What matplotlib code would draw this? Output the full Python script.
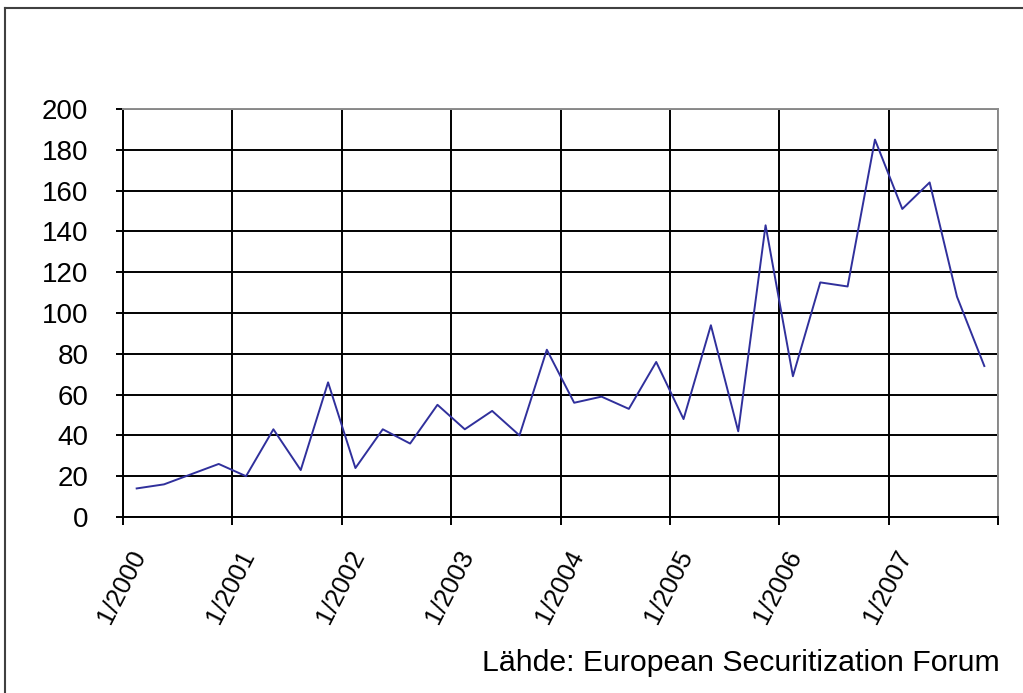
import matplotlib
matplotlib.use("Agg")
import matplotlib.pyplot as plt
from matplotlib.lines import Line2D
from matplotlib.transforms import ScaledTranslation

# quarterly issuance, 1/2000 .. 4/2007
values = [14, 16, 21, 26, 20, 43, 23, 66,
          24, 43, 36, 55, 43, 52, 40, 82,
          56, 59, 53, 76, 48, 94, 42, 143,
          69, 115, 113, 185, 151, 164, 108, 74]
tick_labels = ["1/2000", "1/2001", "1/2002", "1/2003",
               "1/2004", "1/2005", "1/2006", "1/2007", ""]
y_ticks = [0, 20, 40, 60, 80, 100, 120, 140, 160, 180, 200]
source = "Lähde: European Securitization Forum"

plt.rcParams["font.family"] = ["Liberation Sans", "DejaVu Sans"]

W, H = 1023, 693
fig = plt.figure(figsize=(W / 100, H / 100), dpi=100)
ax = fig.add_axes([123 / W, 1 - 517 / H, 875 / W, 408 / H])

x = list(range(len(values)))
ax.plot(x, values, color="#30309c", lw=1.4, zorder=3)

ax.set_xlim(-0.5, len(values) - 0.5)
ax.set_ylim(0, 200)
ax.set_yticks(y_ticks)
ax.set_yticklabels([str(v) for v in y_ticks])
ax.set_xticks([i * 4 - 0.5 for i in range(len(tick_labels))])
ax.set_xticklabels(tick_labels)

ax.grid(True, color="black", lw=1.4)
ax.set_axisbelow(True)
ax.tick_params(axis="y", length=5, width=1.4, pad=20, labelsize=20)
ax.tick_params(axis="x", length=6, width=1.4, pad=19, labelsize=18.5)
for s in ["top", "right"]:
    ax.spines[s].set_color("#8c8c8c")
    ax.spines[s].set_linewidth(1.4)
for s in ["left", "bottom"]:
    ax.spines[s].set_color("black")
    ax.spines[s].set_linewidth(1.4)

shift = ScaledTranslation(12 / 72, 0, fig.dpi_scale_trans)
for lab in ax.get_xticklabels():
    lab.set_rotation(63)
    lab.set_ha("right")
    lab.set_va("center")
    lab.set_rotation_mode("anchor")
    lab.set_transform(lab.get_transform() + shift)

fig.text(1000 / W, 1 - 671 / H, source, ha="right", va="baseline", fontsize=21.8)

# outer chart border (only top and left visible)
fig.add_artist(Line2D([5 / W, 1.0], [1 - 8 / H] * 2, color="#404040", lw=1.5,
                      transform=fig.transFigure))
fig.add_artist(Line2D([5 / W] * 2, [0.0, 1 - 8 / H], color="#404040", lw=1.5,
                      transform=fig.transFigure))

fig.savefig("out.png", dpi=100, facecolor="white")
